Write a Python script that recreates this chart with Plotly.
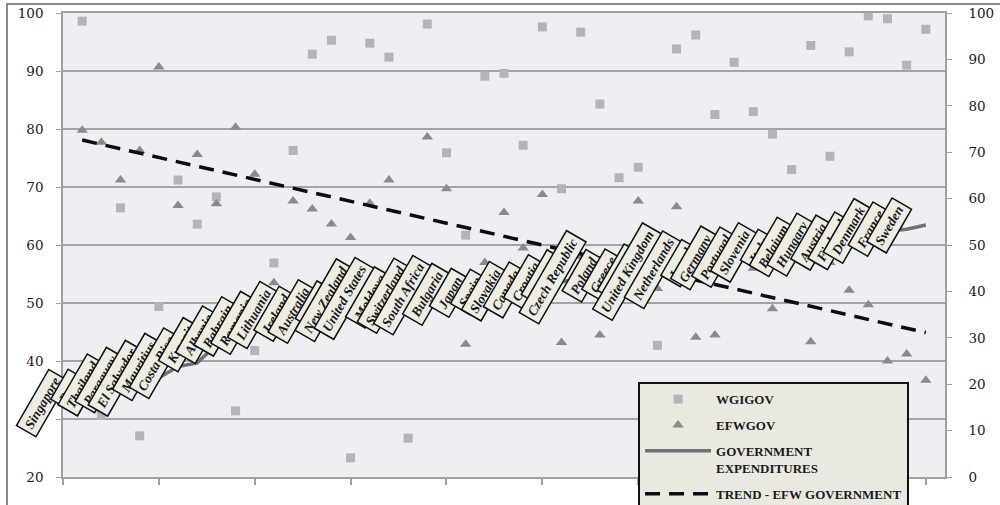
import plotly.graph_objects as go

countries = ["Singapore", "Peru", "Thailand", "Paraguay", "El Salvador", "Mauritius",
             "Costa Rica", "Kuwait", "Albania", "Bahrain", "Romania", "Lithuania",
             "Ireland", "Australia", "Latvia", "New Zealand", "United States", "Moldova",
             "Switzerland", "South Africa", "Bulgaria", "Japan", "Spain", "Slovakia",
             "Canada", "Croatia", "Estonia", "Czech Republic", "Poland", "Greece",
             "Norway", "United Kingdom", "Netherlands", "Israel", "Germany", "Portugal",
             "Slovenia", "Italy", "Belgium", "Hungary", "Austria", "Finland", "Denmark",
             "France", "Sweden"]
idx = list(range(1, len(countries) + 1))

wgigov = [98.6, 30.6, 66.4, 27.1, 49.4, 71.2, 63.6, 68.3, 31.4, 41.8,
          56.9, 76.3, 92.9, 95.3, 23.3, 94.8, 92.4, 26.7, 98.1, 75.9,
          61.7, 89.1, 89.6, 77.2, 97.6, 69.7, 96.7, 84.3, 71.6, 73.4,
          42.7, 93.8, 96.2, 82.5, 91.5, 83.0, 79.1, 73.0, 94.4, 75.3,
          93.3, 99.5, 99.0, 91.0, 97.2]
efwgov = [79.8, 77.7, 71.2, 76.3, 90.7, 66.8, 75.6, 67.1, 80.3, 72.2,
          53.5, 67.6, 66.2, 63.6, 61.3, 67.2, 71.2, 50.5, 78.6, 69.7,
          42.9, 57.0, 65.6, 59.5, 68.7, 43.2, 58.0, 44.5, 55.0, 67.6,
          52.5, 66.6, 44.1, 44.5, 57.0, 56.0, 49.0, 58.0, 43.3, 57.0,
          52.2, 49.7, 40.0, 41.2, 36.7]
gov_exp = [16.0, 18.8, 19.9, 21.0, 21.4, 23.8, 24.6, 28.5, 30.7, 32.4,
           33.2, 35.0, 35.2, 35.6, 37.1, 38.2, 38.5, 38.8, 39.0, 39.2,
           39.4, 39.6, 39.8, 40.0, 40.4, 42.1, 42.8, 43.2, 43.4, 43.6,
           44.0, 44.3, 44.7, 46.2, 47.3, 47.5, 48.4, 49.0, 49.5, 50.1,
           50.5, 50.8, 53.0, 53.4, 54.3]
trend_x = [1, 45]
trend_y = [78.1, 44.9]

left_ticks = [20, 30, 40, 50, 60, 70, 80, 90, 100]
right_ticks = [0, 10, 20, 30, 40, 50, 60, 70, 80, 90, 100]

serif = "Liberation Serif"
tick_font = dict(family="DejaVu Serif", size=13.5, color="#1a1a22")

fig = go.Figure()
fig.add_trace(go.Scatter(
    x=idx, y=wgigov, mode="markers", name="<b>WGIGOV</b>", legendgroup="a",
    marker=dict(symbol="square", size=9, color="#B3B4B8"), yaxis="y"))
fig.add_trace(go.Scatter(
    x=idx, y=efwgov, mode="markers", name="<b>EFWGOV</b>", legendgroup="b",
    marker=dict(symbol="triangle-up", size=10, color="#8A8B8E"), yaxis="y"))
fig.add_trace(go.Scatter(
    x=idx, y=gov_exp, mode="lines", name="<b>GOVERNMENT<br>EXPENDITURES</b>", legendgroup="c",
    line=dict(color="#6F7073", width=3.5), yaxis="y2"))
fig.add_trace(go.Scatter(
    x=trend_x, y=trend_y, mode="lines", name="<b>TREND - EFW GOVERNMENT</b>", legendgroup="d",
    line=dict(color="#0B0B14", width=3.5, dash="15px,9px"), yaxis="y"))

annotations = []
for i, c, v in zip(idx, countries, gov_exp):
    annotations.append(dict(
        x=i, y=v, xref="x", yref="y2", text="<b><i>%s</i></b>" % c,
        showarrow=False, textangle=-60, xanchor="right", yanchor="middle",
        xshift=-13, font=dict(family=serif, size=13.5, color="#1a1a22"),
        bgcolor="#EDEDE3", bordercolor="#111111", borderwidth=1.5, borderpad=3))

fig.update_layout(
    width=1000, height=505,
    margin=dict(l=63, r=55, t=13, b=28, autoexpand=False),
    paper_bgcolor="white", plot_bgcolor="#EEEFF2",
    annotations=annotations,
    showlegend=True,
    legend=dict(x=0.652, y=0.2045, xanchor="left", yanchor="top",
                bgcolor="#E9E9E0", bordercolor="#111111", borderwidth=2,
                font=dict(family=serif, size=13, color="#1a1a22"),
                tracegroupgap=6, itemwidth=66, valign="top",
                traceorder="grouped", entrywidth=216, entrywidthmode="pixels"),
    xaxis=dict(range=[0, 46], tick0=0, dtick=5, showticklabels=False,
               ticks="outside", ticklen=6, tickcolor="#A0A0A0", tickwidth=1.5,
               showline=True, linecolor="#A0A0A0", linewidth=1.5, mirror=True,
               showgrid=False, zeroline=False),
    yaxis=dict(range=[20, 100], tickvals=left_ticks, showgrid=True,
               gridcolor="#A3A3A3", gridwidth=1.5, showline=True,
               linecolor="#A0A0A0", linewidth=1.5, ticks="outside", ticklen=5,
               tickcolor="#A0A0A0", tickfont=tick_font, zeroline=False,
               ticklabelstandoff=10),
    yaxis2=dict(range=[0, 100], tickvals=right_ticks, overlaying="y", side="right",
                showgrid=False, showline=True, linecolor="#A0A0A0", linewidth=1.5,
                ticks="outside", ticklen=5, tickcolor="#A0A0A0", tickfont=tick_font,
                zeroline=False, ticklabelstandoff=14),
    shapes=[dict(type="rect", xref="paper", yref="paper",
                 x0=-0.0635, x1=1.07, y0=-0.08, y1=1.0194,
                 line=dict(color="#8A8A8A", width=2), fillcolor="rgba(0,0,0,0)",
                 layer="below")],
)

fig.write_html("out.html", config={"displayModeBar": False},
               post_script="document.body.style.margin='0';document.body.style.overflow='hidden';")
